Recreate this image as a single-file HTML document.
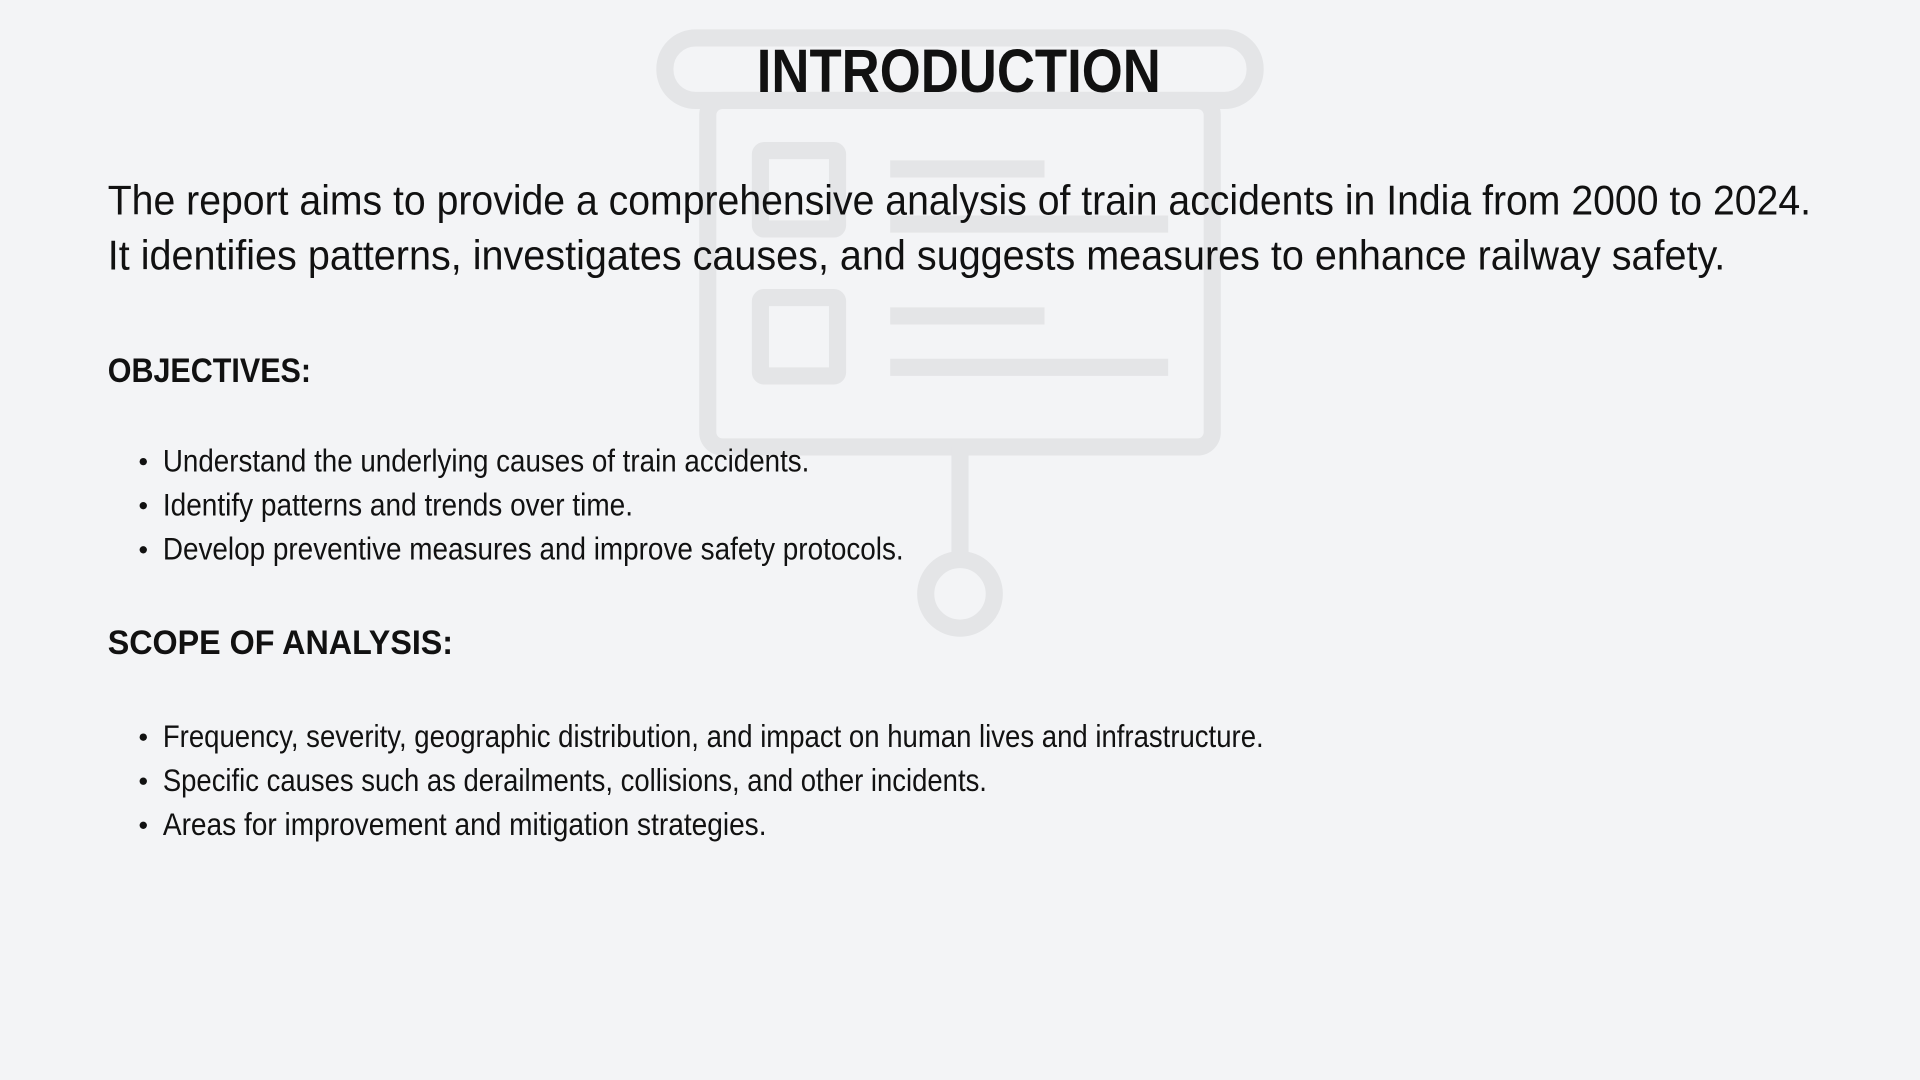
<!DOCTYPE html>
<html><head><meta charset="utf-8"><style>
html,body{margin:0;padding:0;background:#f3f4f6;}
svg{display:block;}
text{font-family:"Liberation Sans",sans-serif;fill:#111;}
</style></head><body>
<svg width="1920" height="1080" viewBox="0 0 1568 882" xmlns="http://www.w3.org/2000/svg">
<rect width="1568" height="882" fill="#f3f4f6"/>
<g fill="none" stroke="#e4e5e7" stroke-width="14" stroke-linecap="butt">
<rect x="543" y="31" width="482" height="51" rx="25"/>
<rect x="578" y="82" width="412" height="283" rx="12"/>
<rect x="621" y="123" width="63" height="64" rx="3"/>
<rect x="621" y="243" width="63" height="64" rx="3"/>
<line x1="727" y1="138" x2="853" y2="138"/>
<line x1="727" y1="183" x2="954" y2="183"/>
<line x1="727" y1="258" x2="853" y2="258"/>
<line x1="727" y1="300" x2="954" y2="300"/>
<line x1="784" y1="365" x2="784" y2="457"/>
<circle cx="784" cy="485" r="28"/>
</g>
<text x="618" y="75" font-size="50" font-weight="bold" textLength="330" lengthAdjust="spacingAndGlyphs">INTRODUCTION</text>
<text x="88" y="175" font-size="34" textLength="1391" lengthAdjust="spacingAndGlyphs" fill="#222">The report aims to provide a comprehensive analysis of train accidents in India from 2000 to 2024.</text>
<text x="88" y="220" font-size="34" textLength="1321" lengthAdjust="spacingAndGlyphs" fill="#222">It identifies patterns, investigates causes, and suggests measures to enhance railway safety.</text>
<text x="88" y="312" font-size="28" font-weight="bold" textLength="166" lengthAdjust="spacingAndGlyphs">OBJECTIVES:</text>
<g font-size="26">
<circle cx="117" cy="377" r="3" fill="#111"/>
<text x="133" y="385" textLength="528" lengthAdjust="spacingAndGlyphs">Understand the underlying causes of train accidents.</text>
<circle cx="117" cy="413" r="3" fill="#111"/>
<text x="133" y="421" textLength="384" lengthAdjust="spacingAndGlyphs">Identify patterns and trends over time.</text>
<circle cx="117" cy="449" r="3" fill="#111"/>
<text x="133" y="457" textLength="605" lengthAdjust="spacingAndGlyphs">Develop preventive measures and improve safety protocols.</text>
</g>
<text x="88" y="534" font-size="28" font-weight="bold" textLength="282" lengthAdjust="spacingAndGlyphs">SCOPE OF ANALYSIS:</text>
<g font-size="26">
<circle cx="117" cy="602" r="3" fill="#111"/>
<text x="133" y="610" textLength="899" lengthAdjust="spacingAndGlyphs">Frequency, severity, geographic distribution, and impact on human lives and infrastructure.</text>
<circle cx="117" cy="638" r="3" fill="#111"/>
<text x="133" y="646" textLength="673" lengthAdjust="spacingAndGlyphs">Specific causes such as derailments, collisions, and other incidents.</text>
<circle cx="117" cy="674" r="3" fill="#111"/>
<text x="133" y="682" textLength="493" lengthAdjust="spacingAndGlyphs">Areas for improvement and mitigation strategies.</text>
</g>
</svg>
</body></html>
